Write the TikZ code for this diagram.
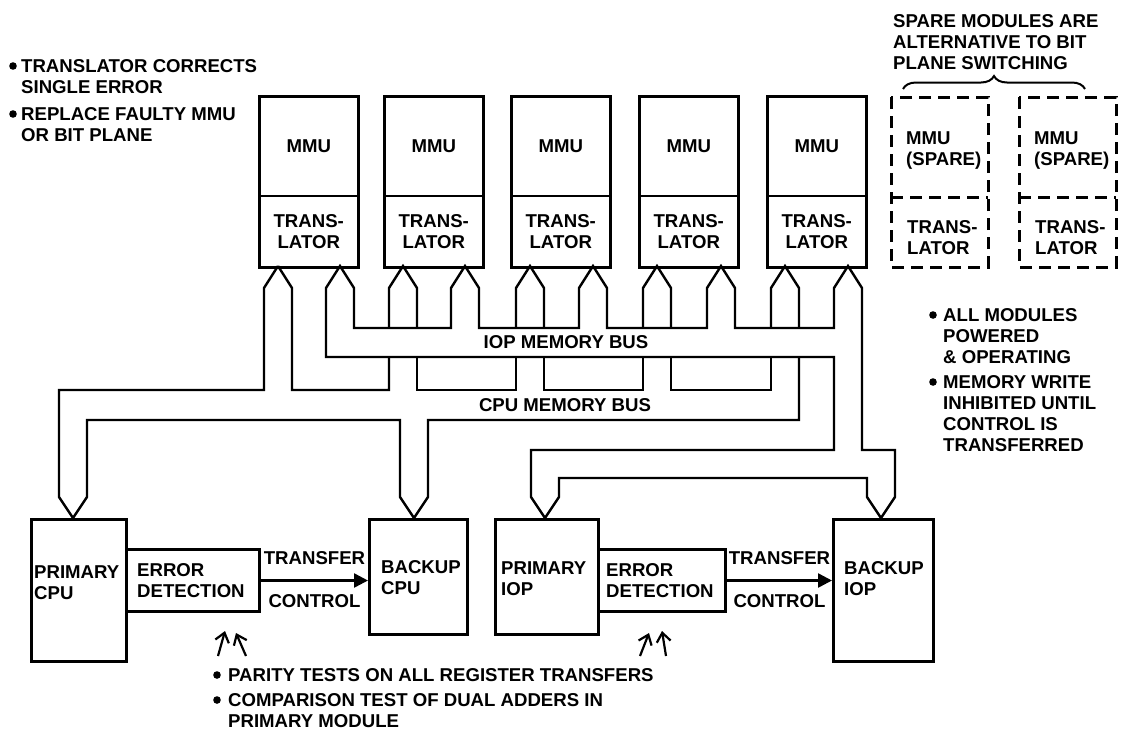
\documentclass[tikz,border=0pt]{standalone}
\usepackage{fontspec}
\setmainfont{Liberation Sans}
\usetikzlibrary{arrows.meta,calc,decorations.pathreplacing}

\begin{document}
\begin{tikzpicture}[
  x=1pt, y=-1pt,
  lbl/.style={font=\fontsize{18.6}{21}\selectfont\bfseries, inner sep=0pt},
  note/.style={lbl, align=left, anchor=north west},
  mmucell/.style={lbl, draw, line width=1.5pt, minimum width=98pt, align=center, anchor=north west},
  modframe/.style={line width=3pt},
  sparedash/.style={line width=3pt, dash pattern=on 12pt off 7pt},
  cpuunit/.style={draw, line width=3pt, anchor=north west, inner sep=0pt},
  buswall/.style={line width=2.4pt},
  xferarrow/.style={-{Triangle[length=14pt,width=14pt]}, line width=2.5pt},
  hintarrow/.style={-{Straight Barb[length=9pt,width=14pt]}, line width=2.2pt},
]
  \fill[white] (0,0) rectangle (1122,732);
  \useasboundingbox (0,0) rectangle (1122,732);

  % Memory modules
  \foreach \i/\x in {1/259,2/384,3/511,4/639,5/767} {
    \node[mmucell, minimum height=99pt] (mmu\i) at (\x,96) {MMU};
    \node[mmucell, minimum height=71pt] (tr\i) at (\x,195) {TRANS-\\LATOR};
    \draw[modframe] (mmu\i.north west) rectangle (tr\i.south east);
  }

  % Spare modules
  \foreach \i/\x in {1/891,2/1019} {
    \draw[sparedash] (\x,97) rectangle (\x+97,267);
    \draw[sparedash] (\x,197) -- (\x+97,197);
    \node[note] (smmu\i) at (\x+15,131.5) {MMU\\(SPARE)};
    \node[note] (str\i) at (\x+16,220.5) {TRANS-\\LATOR};
  }
  \draw[line width=2pt, decorate, decoration={brace, amplitude=13pt}] (903,89) -- (1085,89);
  \node[note] (spnote) at (893,14.5) {SPARE MODULES ARE\\ALTERNATIVE TO BIT\\PLANE SWITCHING};

  % Processors
  \node[cpuunit, minimum width=95pt, minimum height=142pt] (pcpu) at (30,518) {};
  \node[cpuunit, minimum width=133pt, minimum height=62pt] (ed1) at (125,548) {};
  \node[cpuunit, minimum width=98pt, minimum height=115pt] (bcpu) at (368,518) {};
  \node[cpuunit, minimum width=103pt, minimum height=115pt] (piop) at (494,518) {};
  \node[cpuunit, minimum width=127pt, minimum height=62pt] (ed2) at (597,548) {};
  \node[cpuunit, minimum width=100pt, minimum height=142pt] (biop) at (832,518) {};

  \node[note] at ($(pcpu.north west)+(4,47.5)$) {PRIMARY\\CPU};
  \node[note] at ($(ed1.north west)+(12,15.5)$) {ERROR\\DETECTION};
  \node[note] at ($(bcpu.north west)+(13,42.5)$) {BACKUP\\CPU};
  \node[note] at ($(piop.north west)+(7,43.5)$) {PRIMARY\\IOP};
  \node[note] at ($(ed2.north west)+(9,15.5)$) {ERROR\\DETECTION};
  \node[note] at ($(biop.north west)+(12,43.5)$) {BACKUP\\IOP};

  % Transfer of control
  \draw[xferarrow] (ed1.east) -- (bcpu.west |- ed1.east)
    node[midway, above=15pt, lbl] {TRANSFER}
    node[midway, below=13pt, lbl] {CONTROL};
  \draw[xferarrow] (ed2.east) -- (biop.west |- ed2.east)
    node[midway, above=15pt, lbl] {TRANSFER}
    node[midway, below=13pt, lbl] {CONTROL};

  % CPU memory bus
  \draw[buswall] (278,266) -- (264,288) -- (264,390) -- (59,390) -- (59,497) -- (73,518) -- (87,497)
    -- (87,420) -- (400,420) -- (400,497) -- (414,518) -- (428,497) -- (428,420) -- (799,420) -- (799,357);
  \draw[buswall] (278,266) -- (292,288) -- (292,390) -- (389,390) -- (389,357);
  \foreach \a/\b in {417/516,544/643,671/771}
    \draw[buswall] (\a,357) -- (\a,390) -- (\b,390) -- (\b,357);
  \foreach \c in {403,530,657,785}
    \draw[buswall] (\c-14,328) -- (\c-14,288) -- (\c,266) -- (\c+14,288) -- (\c+14,328);
  \node[lbl] (cpubus) at (565,405) {CPU MEMORY BUS};

  % IOP memory bus
  \draw[buswall] (340,266) -- (326,288) -- (326,357) -- (834,357) -- (834,450) -- (531,450)
    -- (531,497) -- (545,518) -- (559,497) -- (559,478) -- (867,478) -- (867,497) -- (881,518)
    -- (895,497) -- (895,450) -- (862,450) -- (862,288) -- (848,266) -- (834,288) -- (834,328)
    -- (735,328) -- (735,288) -- (721,266) -- (707,288) -- (707,328) -- (607,328) -- (607,288)
    -- (593,266) -- (579,288) -- (579,328) -- (479,328) -- (479,288) -- (465,266) -- (451,288)
    -- (451,328) -- (354,328) -- (354,288) -- cycle;
  \node[lbl] (iopbus) at (566,342.5) {IOP MEMORY BUS};

  % Error checks
  \draw[hintarrow] ($(ed1.south)+(25,43)$) -- ++(7,-25);
  \draw[hintarrow] ($(ed1.south)+(53,43)$) -- ++(-10,-23);
  \draw[hintarrow] ($(ed2.south)+(-22,43)$) -- ++(9,-23);
  \draw[hintarrow] ($(ed2.south)+(4,43)$) -- ++(-4,-25);

  % Notes
  \node[note] (n1) at (21,59.5) {TRANSLATOR CORRECTS\\SINGLE ERROR};
  \node[note] (n2) at (21,107.5) {REPLACE FAULTY MMU\\OR BIT PLANE};
  \node[note] (n3) at (943,308.5) {ALL MODULES\\POWERED\\\& OPERATING};
  \node[note] (n4) at (943,375.5) {MEMORY WRITE\\INHIBITED UNTIL\\CONTROL IS\\TRANSFERRED};
  \node[note] (n5) at (228,668.5) {PARITY TESTS ON ALL REGISTER TRANSFERS};
  \node[note] (n6) at (228,693.5) {COMPARISON TEST OF DUAL ADDERS IN\\PRIMARY MODULE};
  \foreach \n/\d in {n1/8,n2/8,n3/10,n4/10,n5/11,n6/11}
    \fill ($(\n.north west)+(-\d,6.5)$) circle (3.8pt);
\end{tikzpicture}
\end{document}
